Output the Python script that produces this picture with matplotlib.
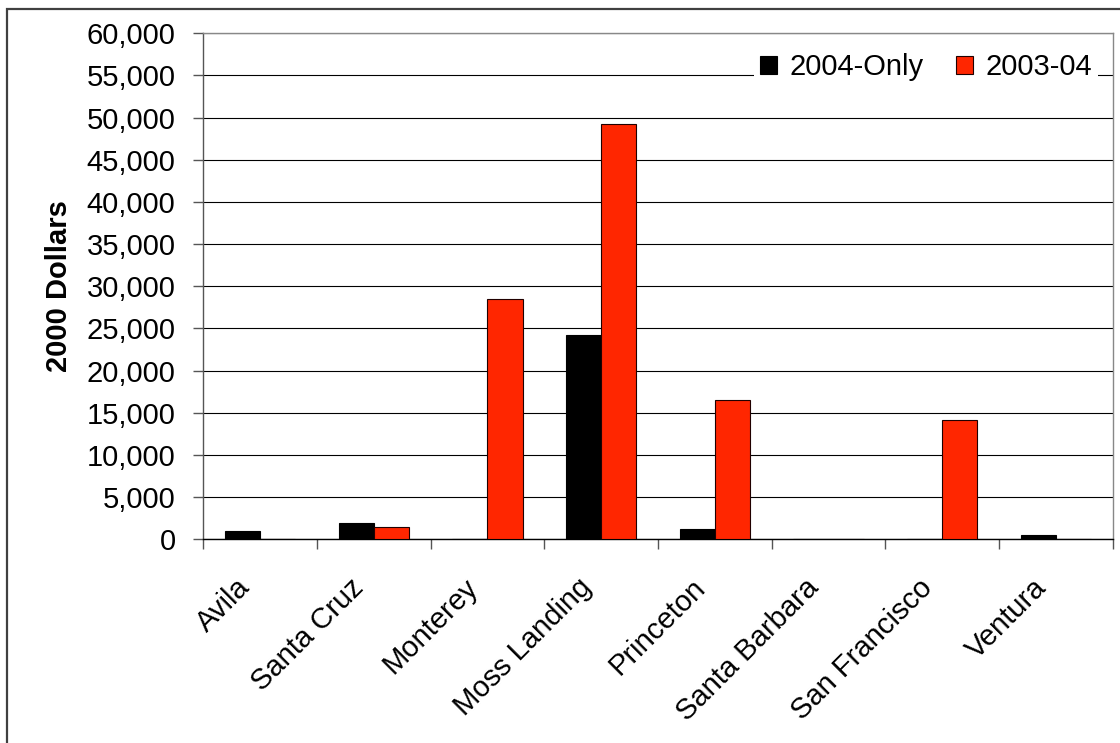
import numpy as np
import matplotlib
matplotlib.use("Agg")
import matplotlib.pyplot as plt
from matplotlib.patches import Rectangle
from matplotlib.ticker import FuncFormatter, MultipleLocator
from matplotlib.transforms import ScaledTranslation

plt.rcParams["font.family"] = ["Liberation Sans", "DejaVu Sans"]

ports = ["Avila", "Santa Cruz", "Monterey", "Moss Landing", "Princeton",
         "Santa Barbara", "San Francisco", "Ventura"]
only_2004 = [1000, 1950, 0, 24250, 1200, 0, 0, 500]
both_0304 = [0, 1400, 28550, 49200, 16550, 0, 14100, 0]
series_names = ["2004-Only", "2003-04"]

RED = "#FF2600"
W = 0.31
FS = 21

fig = plt.figure(figsize=(11.2, 7.43), dpi=100)
ax = fig.add_axes([0.1815, 0.2742, 0.812, 0.681])

x = np.arange(len(ports))
ax.bar(x - W / 2, only_2004, W, color="black", edgecolor="black", lw=0.8,
       label=series_names[0], zorder=3)
ax.bar(x + W / 2, both_0304, W, color=RED, edgecolor="#200000", lw=0.8,
       label=series_names[1], zorder=3)

ax.set_xlim(-0.5, len(ports) - 0.5)
ax.set_ylim(0, 60000)
ax.yaxis.set_major_locator(MultipleLocator(5000))
ax.yaxis.set_major_formatter(FuncFormatter(lambda v, _: f"{v:,.0f}"))
ax.yaxis.grid(True, color="black", lw=0.8, zorder=0)

# tick marks sit on the category boundaries; names are placed by hand
ax.set_xticks(np.arange(-0.5, len(ports)))
ax.set_xticklabels([])
ax.tick_params(axis="x", length=7, width=1, color="#555")
ax.tick_params(axis="y", length=7, width=1, color="#555", pad=13, labelsize=FS)

lab_tr = ax.get_xaxis_transform() + ScaledTranslation(-0.24, -0.34,
                                                      fig.dpi_scale_trans)
for i, name in enumerate(ports):
    ax.text(x[i], 0, name, transform=lab_tr, rotation=45, ha="right",
            va="top", rotation_mode="anchor", fontsize=FS)

for side in ("top", "right"):
    ax.spines[side].set_color("#888")
ax.spines["left"].set_color("#555")
ax.spines["bottom"].set_color("black")
for sp in ax.spines.values():
    sp.set_linewidth(1)

ax.set_ylabel("2000 Dollars", fontsize=FS, fontweight="bold", labelpad=10)

leg = ax.legend(loc="center right", bbox_to_anchor=(0.9937, 0.9098),
                bbox_transform=fig.transFigure, ncol=2, fontsize=FS,
                frameon=True, fancybox=False, framealpha=1,
                handlelength=0.58, handleheight=0.58, handletextpad=0.45,
                columnspacing=1.1, borderpad=0.2)
leg.get_frame().set_edgecolor("none")
leg.get_frame().set_facecolor("white")

# outer chart border (only left and top edges fall inside the canvas)
fig.patches.append(Rectangle((7 / 1120, -0.1), 1.2, 1 - 9 / 743 + 0.1,
                             transform=fig.transFigure, fill=False,
                             edgecolor="#404040", lw=1.6))

fig.savefig("out.png", dpi=100)
